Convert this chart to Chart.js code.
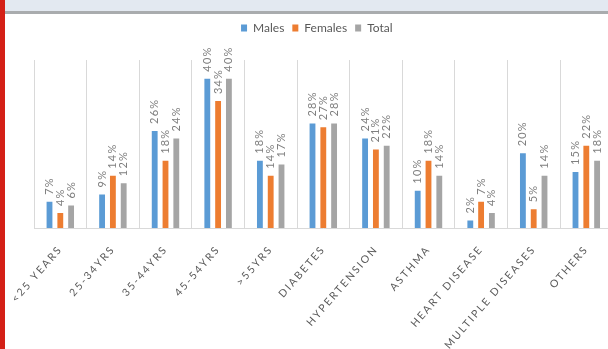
<!DOCTYPE html>
<html>
<head>
<meta charset="utf-8">
<script src="https://cdn.jsdelivr.net/npm/chart.js@4.4.1/dist/chart.umd.min.js"></script>
<style>
  html, body { margin: 0; padding: 0; width: 608px; height: 349px; overflow: hidden; background: #fff; }
  #redbar { position: absolute; left: 0; top: 0; width: 5px; height: 349px; background: #d42016; z-index: 2; }
  #band { position: absolute; left: 5px; top: 0; width: 603px; height: 11px; background: #e3e9f1; }
  #bandline { position: absolute; left: 5px; top: 11px; width: 603px; height: 3px; background: #a9acae; }
  #wrap { position: absolute; left: 5px; top: 14px; width: 616px; height: 335px; }
</style>
</head>
<body>
<div id="redbar"></div>
<div id="band"></div>
<div id="bandline"></div>
<div id="wrap"><canvas id="c" width="616" height="335"></canvas></div>
<script>
const categories = ['<25 YEARS', '25-34YRS', '35-44YRS', '45-54YRS', '>55YRS', 'DIABETES', 'HYPERTENSION', 'ASTHMA', 'HEART DISEASE', 'MULTIPLE DISEASES', 'OTHERS'];
const males   = [7, 9, 26, 40, 18, 28, 24, 10, 2, 20, 15];
const females = [4, 14, 18, 34, 14, 27, 21, 18, 7, 5, 22];
const total   = [6, 12, 24, 40, 17, 28, 22, 14, 4, 14, 18];
const seriesNames = ['Males', 'Females', 'Total'];
const seriesColors = ['#5B9BD5', '#ED7D31', '#A5A5A5'];

const FONT = "Lato, 'Liberation Sans', sans-serif";

const barLabels = {
  id: 'barLabels',
  beforeInit(chart) {
    const origFit = chart.legend.fit;
    chart.legend.fit = function () {
      origFit.call(this);
      this.height = 46;
    };
  },
  afterLayout(chart) {
    chart.legend.left += 8;
    chart.legend.right += 8;
  },
  afterDatasetsDraw(chart) {
    const ctx = chart.ctx;
    chart.data.datasets.forEach((ds, di) => {
      const meta = chart.getDatasetMeta(di);
      meta.data.forEach((el, i) => {
        ctx.save();
        ctx.letterSpacing = '1.2px';
        ctx.font = "11px " + FONT;
        ctx.fillStyle = '#7f7f7f';
        ctx.textAlign = 'left';
        ctx.textBaseline = 'middle';
        ctx.translate(el.x, el.y - 7);
        ctx.rotate(-Math.PI / 2);
        ctx.fillText(ds.data[i] + '%', 0, 0);
        ctx.restore();
      });
    });
    ctx.letterSpacing = '2px';
  },
  afterDraw(chart) {
    chart.ctx.letterSpacing = '0px';
  }
};

new Chart(document.getElementById('c'), {
  type: 'bar',
  data: {
    labels: categories,
    datasets: [
      { label: seriesNames[0], data: males, backgroundColor: seriesColors[0] },
      { label: seriesNames[1], data: females, backgroundColor: seriesColors[1] },
      { label: seriesNames[2], data: total, backgroundColor: seriesColors[2] }
    ]
  },
  options: {
    responsive: false,
    animation: false,
    devicePixelRatio: 1,
    categoryPercentage: 0.616,
    barPercentage: 0.54,
    layout: { padding: { left: 0, right: 8.4, top: 0, bottom: 0 } },
    plugins: {
      legend: {
        position: 'top',
        align: 'center',
        labels: {
          boxWidth: 6, boxHeight: 7, padding: 8,
          color: '#595959',
          font: { family: FONT, size: 12 }
        }
      },
      tooltip: { enabled: false }
    },
    scales: {
      x: {
        afterFit(scale) { scale.height = 121; scale.paddingLeft = 0; scale.paddingRight = 0; },
        grid: { display: true, color: '#d9d9d9', lineWidth: 1, drawTicks: false, offset: true },
        border: { display: true, color: '#d9d9d9' },
        ticks: {
          z: 1,
          autoSkip: false,
          minRotation: 49, maxRotation: 49,
          padding: 15,
          color: '#595959',
          font: { family: FONT, size: 10.5 }
        }
      },
      y: {
        min: 0, max: 45,
        afterFit(scale) { scale.width = 29; },
        grid: { display: false },
        border: { display: false },
        ticks: { display: false }
      }
    }
  },
  plugins: [barLabels]
});
</script>
</body>
</html>
